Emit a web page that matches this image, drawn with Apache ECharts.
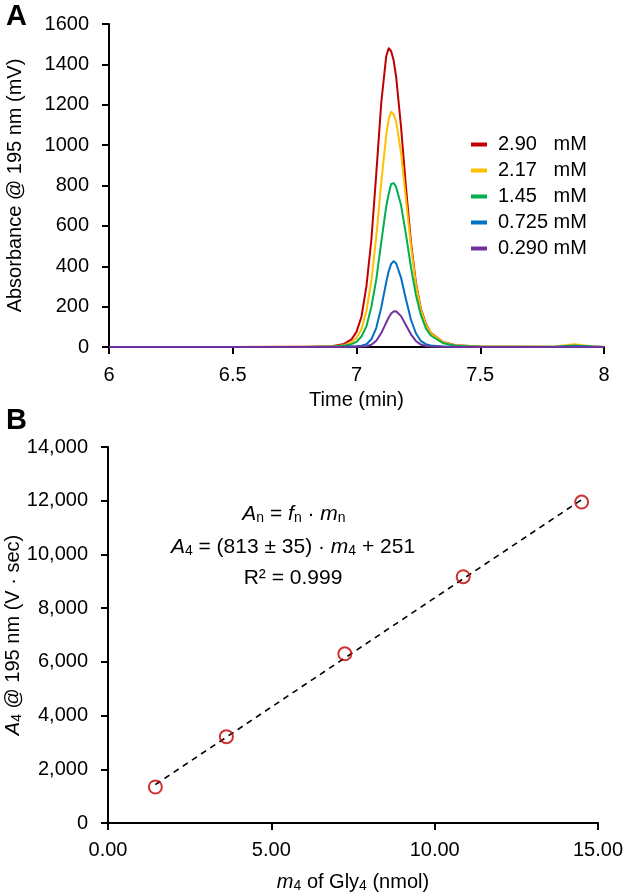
<!DOCTYPE html>
<html>
<head>
<meta charset="utf-8">
<script src="https://cdn.jsdelivr.net/npm/echarts@6/dist/echarts.min.js"></script>
<style>
html,body{margin:0;padding:0;background:#fff;}
#chart{width:625px;height:893px;}
</style>
</head>
<body>
<div id="chart"></div>
<script>
// ---------- Panel A data ----------
const timeMin = [6.00,6.50,6.80,6.90,6.95,6.98,7.00,7.02,7.04,7.06,7.08,7.10,7.12,7.13,7.14,7.15,7.16,7.18,7.20,7.22,7.24,7.26,7.28,7.30,7.35,7.40,7.50,7.80,7.88,7.95,8.00];
const conc290 = [0,0,1,4,15,38,75,150,300,530,860,1210,1440,1480,1465,1420,1340,1090,790,520,320,190,115,70,25,9,2,0,3,1,0];
const conc217 = [0,0,1,3,9,22,44,88,177,327,547,815,1047,1130,1165,1152,1118,960,730,500,310,185,110,68,24,8,2,2,14,4,0];
const conc145 = [0,0,0,2,6,14,25,52,102,198,335,519,695,758,807,812,793,703,557,395,258,159,93,57,19,6,1,1,7,2,0];
const conc0725 = [0,0,0,0,1,3,4,6,14,38,95,195,320,375,412,425,415,343,235,135,68,30,14,8,3,1,0,0,3,1,0];
const conc0290 = [0,0,0,0,0,1,1,2,4,11,31,69,121,146,166,176,177,153,108,63,30,12,5,2,1,0,0,0,1,0,0];
const legendNames = ["2.90   mM","2.17   mM","1.45   mM","0.725 mM","0.290 mM"];
const lineColors = ["#c00000","#ffc000","#00b050","#0070c0","#7030a0"];
const seriesA = [conc290, conc217, conc145, conc0725, conc0290];

// ---------- Panel B data ----------
const massNmol = [1.45, 3.625, 7.25, 10.875, 14.5];
const areaVs = [1340, 3215, 6300, 9170, 11950];
const trendX = [1.45, 14.5];
const trendY = [1430, 12040];

const FONT = '"Liberation Sans", Arial, sans-serif';
const FS = 20;

const chart = echarts.init(document.getElementById('chart'), null, {renderer:'canvas'});

const axisLineStyle = {show:true, lineStyle:{color:'#000', width:2}};
const tickStyle = {show:true, length:7, inside:false, lineStyle:{color:'#000', width:2}};
const labelBase = {color:'#000', fontFamily:FONT, fontSize:FS};
const richName = {
  i:{fontStyle:'italic', fontFamily:FONT, fontSize:FS, color:'#000'},
  sub:{fontSize:14, fontFamily:FONT, color:'#000', verticalAlign:'bottom', padding:[8,0,0,0]}
};

const option = {
  animation:false,
  backgroundColor:'#fff',
  textStyle:{fontFamily:FONT},
  grid:[
    {left:109, right:21, top:24, bottom:546, containLabel:false, outerBoundsMode:'none'},
    {left:108, right:27, top:447, bottom:70, containLabel:false, outerBoundsMode:'none'}
  ],
  legend:{
    data:legendNames,
    orient:'vertical',
    left:466, top:129,
    itemWidth:16, itemHeight:4, itemGap:5,
    icon:'rect',
    textStyle:{color:'#000', fontFamily:FONT, fontSize:FS, lineHeight:21, padding:[0,0,0,6]}
  },
  xAxis:[
    {type:'value', gridIndex:0, min:6, max:8, interval:0.5, nameMoveOverlap:false,
     axisLine:axisLineStyle, axisTick:tickStyle, splitLine:{show:false},
     axisLabel:Object.assign({margin:18}, labelBase),
     name:'Time (min)', nameLocation:'middle', nameGap:43,
     nameTextStyle:{color:'#000', fontFamily:FONT, fontSize:FS}},
    {type:'value', gridIndex:1, min:0, max:15, interval:5, nameMoveOverlap:false,
     axisLine:axisLineStyle, axisTick:tickStyle, splitLine:{show:false},
     axisLabel:Object.assign({margin:17, formatter:v=>v.toFixed(2)}, labelBase),
     name:'{i|m}{sub|4} of Gly{sub|4} (nmol)', nameLocation:'middle', nameGap:48,
     nameTextStyle:{color:'#000', fontFamily:FONT, fontSize:FS, rich:richName}}
  ],
  yAxis:[
    {type:'value', gridIndex:0, min:0, max:1600, interval:200, nameMoveOverlap:false,
     axisLine:axisLineStyle, axisTick:tickStyle, splitLine:{show:false},
     axisLabel:Object.assign({margin:20, formatter:v=>String(v)}, labelBase),
     name:'Absorbance @ 195 nm (mV)', nameLocation:'middle', nameGap:84,
     nameTextStyle:{color:'#000', fontFamily:FONT, fontSize:FS}},
    {type:'value', gridIndex:1, min:0, max:14000, interval:2000, nameMoveOverlap:false,
     axisLine:axisLineStyle, axisTick:tickStyle, splitLine:{show:false},
     axisLabel:Object.assign({margin:20, formatter:v=>v.toLocaleString('en-US')}, labelBase),
     name:'{i|A}{sub|4} @ 195 nm (V · sec)', nameLocation:'middle', nameGap:84,
     nameTextStyle:{color:'#000', fontFamily:FONT, fontSize:FS, rich:richName}}
  ],
  series:[],
  graphic:[
    {type:'text', left:6, top:2, style:{text:'A', font:'bold 29px '+FONT, fill:'#000'}},
    {type:'text', left:6, top:406, style:{text:'B', font:'bold 29px '+FONT, fill:'#000'}},
    {type:'text', x:294, y:514, style:{
      text:'{i|A}{sub|n} = {i|f}{sub|n} · {i|m}{sub|n}',
      align:'center', verticalAlign:'middle', font:'21px '+FONT, fill:'#000',
      rich:{i:{fontStyle:'italic', fontSize:21, fontFamily:FONT},
            sub:{fontSize:14, fontFamily:FONT, verticalAlign:'bottom', padding:[8,0,0,0]}}}},
    {type:'text', x:293, y:547, style:{
      text:'{i|A}{sub|4} = (813 ± 35) · {i|m}{sub|4} + 251',
      align:'center', verticalAlign:'middle', font:'21px '+FONT, fill:'#000',
      rich:{i:{fontStyle:'italic', fontSize:21, fontFamily:FONT},
            sub:{fontSize:14, fontFamily:FONT, verticalAlign:'bottom', padding:[8,0,0,0]}}}},
    {type:'text', x:293, y:578, style:{
      text:'R² = 0.999', align:'center', verticalAlign:'middle', font:'21px '+FONT, fill:'#000'}}
  ]
};

seriesA.forEach((vals, k) => {
  option.series.push({
    name:legendNames[k], type:'line', xAxisIndex:0, yAxisIndex:0,
    data:timeMin.map((t,i)=>[t, vals[i]]),
    showSymbol:false, symbol:'none', smooth:false,
    lineStyle:{color:lineColors[k], width:2, join:'round'}, itemStyle:{color:lineColors[k]},
    z:2
  });
});

option.series.push({
  name:'trend', type:'line', xAxisIndex:1, yAxisIndex:1,
  data:trendX.map((x,i)=>[x, trendY[i]]),
  showSymbol:false, symbol:'none',
  lineStyle:{color:'#000', width:1.6, type:[6,5]}, z:2
});
option.series.push({
  name:'data', type:'scatter', xAxisIndex:1, yAxisIndex:1,
  data:massNmol.map((x,i)=>[x, areaVs[i]]),
  symbol:'circle', symbolSize:13,
  itemStyle:{color:'rgba(255,255,255,0)', borderColor:'#c00000', borderWidth:2}, z:3
});

chart.setOption(option);
</script>
</body>
</html>
